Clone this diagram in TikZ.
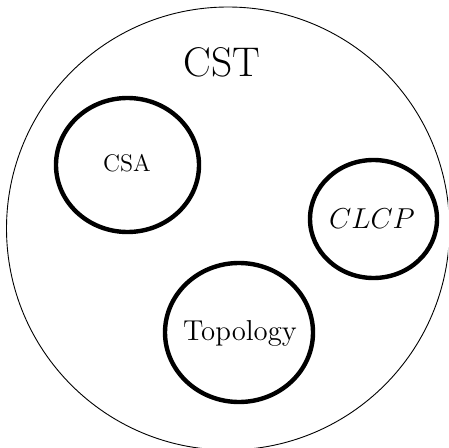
\documentclass[tikz,border=0pt]{standalone}
\usetikzlibrary{shapes.geometric}
\begin{document}
\begin{tikzpicture}[x=0.5pt,y=-0.5pt,
  outer/.style={draw,line width=0.45pt},
  set/.style={draw,ellipse,line width=2.2pt,inner sep=0pt}]
\useasboundingbox (0,0) rectangle (448,448);
\clip (0,0) rectangle (448,448);
% the enclosing set, running just past the lower and right edges
\node[outer,circle,minimum size=443*0.5pt,inner sep=0pt] (cst) at (228,228.5) {};
\node (cstlabel) at (222,62) {\huge CST};
% the three inner sets
\node[set,minimum width=143*0.5pt,minimum height=134*0.5pt] (csa) at (127.5,165) {};
\node (csalabel) at (127,163) {\large CSA};
\node[set,minimum width=127*0.5pt,minimum height=118*0.5pt] (clcp) at (373.5,219) {};
\node (clcplabel) at (372,219) {\Large $CLCP$};
\node[set,minimum width=148*0.5pt,minimum height=139*0.5pt] (topo) at (239,332.5) {};
\node (topolabel) at (240,333) {\Large Topology};
\end{tikzpicture}
\end{document}
